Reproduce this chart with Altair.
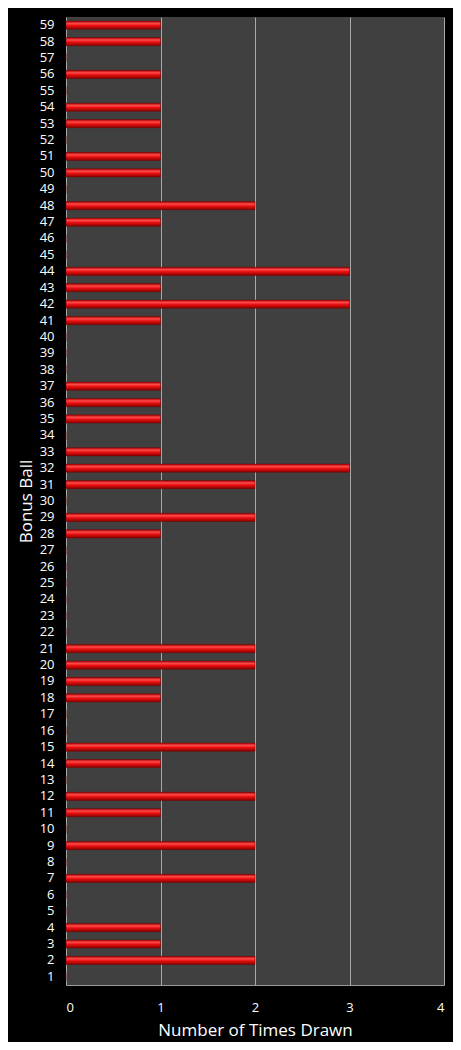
import altair as alt
import pandas as pd

balls = list(range(1, 60))
counts = [0, 2, 1, 1, 0, 0, 2, 0, 2, 0,
          1, 2, 0, 1, 2, 0, 0, 1, 1, 2,
          2, 0, 0, 0, 0, 0, 0, 1, 2, 0,
          2, 3, 1, 0, 1, 1, 1, 0, 0, 0,
          1, 3, 1, 3, 0, 0, 1, 2, 0, 1,
          1, 0, 1, 1, 0, 1, 0, 1, 1]
x_ticks = [0, 1, 2, 3, 4]

df = pd.DataFrame({"ball": [str(b) for b in balls], "count": counts})
order = [str(b) for b in reversed(balls)]

grad = alt.LinearGradient(
    gradient="linear",
    stops=[
        alt.GradientStop(offset=0, color="#a80000"),
        alt.GradientStop(offset=0.3, color="#ff4a4a"),
        alt.GradientStop(offset=0.55, color="#e81010"),
        alt.GradientStop(offset=1, color="#8a0000"),
    ],
    x1=0, x2=0, y1=0, y2=1,
)

FONT = "Open Sans"

chart = (
    alt.Chart(df)
    .mark_bar(color=grad, stroke="#700000", strokeWidth=0.4)
    .encode(
        y=alt.Y(
            "ball:O",
            sort=order,
            scale=alt.Scale(paddingInner=0.5, paddingOuter=0.25),
            axis=alt.Axis(
                title="Bonus Ball",
                titleColor="white",
                titleFont=FONT,
                titleFontSize=17,
                titleFontWeight="normal",
                titlePadding=4,
                labelColor="white",
                labelFont=FONT,
                labelFontSize=13,
                labelPadding=12,
                ticks=False,
                domain=False,
                grid=False,
            ),
        ),
        x=alt.X(
            "count:Q",
            scale=alt.Scale(domain=[0, 4], nice=False),
            axis=alt.Axis(
                title="Number of Times Drawn",
                values=x_ticks,
                format="d",
                titleColor="white",
                titleFont=FONT,
                titleFontSize=17,
                titleFontWeight="normal",
                titlePadding=8,
                labelColor="white",
                labelFont=FONT,
                labelFontSize=13,
                labelPadding=16,
                ticks=False,
                domain=True,
                domainColor="#9a9a9a",
                grid=True,
                gridColor="#a8a8a8",
                gridWidth=1,
            ),
        ),
    )
    .properties(
        width=378,
        height=968,
        background="black",
        padding={"left": 58, "top": 9, "right": 9, "bottom": 57},
        autosize=alt.AutoSizeParams(type="none"),
    )
    .configure_view(fill="#404040", stroke=None)
)

chart.save("out.html", embed_options={"renderer": "svg", "actions": False})
